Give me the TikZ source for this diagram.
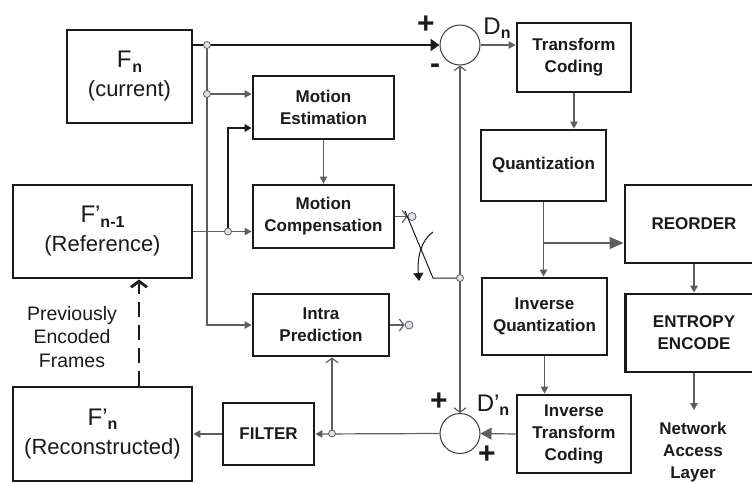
\documentclass[tikz,border=0pt]{standalone}
\usepackage{fontspec}
\setmainfont{Liberation Sans}
\usetikzlibrary{arrows.meta,calc}

\definecolor{inkc}{HTML}{1A1A1A}
\definecolor{wirec}{HTML}{5E5E5E}
\definecolor{dotfill}{HTML}{DDE3EE}

\newcommand\boxfont{\fontsize{17}{22}\selectfont\bfseries}
\newcommand\signfont{\fontsize{30}{30}\selectfont\bfseries}
\newcommand\subn[1]{\raisebox{-4.5pt}{\fontsize{16}{16}\selectfont\bfseries #1}}

\begin{document}
\begin{tikzpicture}[x=1pt,y=-1pt,
  box/.style={draw=inkc, line width=2.9pt, inner sep=0pt, align=center,
              font=\boxfont, text=inkc},
  framebox/.style={box, font=\fontsize{22}{29}\selectfont\mdseries},
  sumnode/.style={circle, draw=inkc!85, line width=1pt, minimum size=40pt, inner sep=0pt},
  wire/.style={draw=wirec, line width=1.2pt},
  darkwire/.style={draw=inkc, line width=1.8pt},
  switchline/.style={draw=inkc, line width=1pt},
  tipS/.style={-{Triangle[length=7pt,width=7.5pt]}},
  tipB/.style={-{Triangle[length=14pt,width=12pt]}},
  tipO/.style={-{Straight Barb[length=4.5pt,width=12pt]}},
  jdot/.style={circle, draw=wirec, fill=dotfill, line width=0.8pt, inner sep=0pt, minimum size=7pt},
  txt/.style={text=inkc, align=center}
]
\useasboundingbox (0,0) rectangle (752,483);

% ---------- frame stores ----------
\node[framebox, minimum width=125pt, minimum height=93pt] (cur) at (129.5,76.5)
  {{\fontsize{24}{24}\selectfont F\kern1pt\subn{n}}\\(current)};
\node[framebox, minimum width=179pt, minimum height=93pt] (ref) at (102.5,231.5)
  {{\fontsize{24}{24}\selectfont F’\subn{n-1}}\\(Reference)};
\node[framebox, minimum width=179pt, minimum height=94pt] (rec) at (102.5,434)
  {{\fontsize{24}{24}\selectfont F’\subn{n}}\\(Reconstructed)};

% ---------- processing blocks ----------
\node[box, minimum width=141pt, minimum height=63pt] (me) at (323.5,107.5) {Motion\\Estimation};
\node[box, minimum width=141pt, minimum height=63pt] (mc) at (323.5,216.5) {Motion\\Compensation};
\node[box, minimum width=136pt, minimum height=62pt] (intra) at (321,325) {Intra\\Prediction};
\node[box, minimum width=91pt, minimum height=62pt] (filt) at (268.5,434) {FILTER};
\node[box, minimum width=114pt, minimum height=69pt] (tc) at (574,57.5) {Transform\\Coding};
\node[box, minimum width=125pt, minimum height=71pt] (quant) at (543.5,165.5) {Quantization};
\node[box, minimum width=125pt, minimum height=77pt] (iq) at (544.5,316.5) {Inverse\\Quantization};
\node[box, minimum width=114pt, minimum height=78pt] (itc) at (574,434) {Inverse\\Transform\\Coding};
\node[box, minimum width=138pt, minimum height=78pt] (reo) at (694,224) {REORDER};
\node[box, minimum width=137pt, minimum height=78pt] (ent) at (694,333) {ENTROPY\\ENCODE};

\node[txt, font=\boxfont] (nal) at (693,452) {Network\\Access\\Layer};
\node[txt, font=\fontsize{19.5}{23.5}\selectfont] (prev) at (72,337) {Previously\\Encoded\\Frames};

% ---------- summing junctions ----------
\node[sumnode] (sum1) at (460,45) {};
\node[sumnode] (sum2) at (460,433.5) {};

\node[txt, font=\signfont] (plus1) at (426,25) {+};
\node[txt, font=\signfont] (minus1) at (435,69) {-};
\node[txt] (dn) at (497,28) {\fontsize{24}{24}\selectfont D\subn{n}};
\node[txt, font=\signfont] (plus2) at (439,402) {+};
\node[txt, font=\signfont] (plus3) at (487,455) {+};
\node[txt] (dpn) at (493,405) {\fontsize{24}{24}\selectfont D’\subn{n}};

% ---------- junction points ----------
\coordinate (j1) at (207,45);
\coordinate (j2) at (207,94);
\coordinate (j3) at (228,231.5);
\coordinate (j4) at (460,278);
\coordinate (j5) at (332,433.5);
\coordinate (br) at (543.5,243);
\coordinate (nalIn) at (694,410);
\coordinate (swPivot) at (433,278);
\coordinate (swTip) at (405,211);

% ---------- connectors ----------
\draw[draw=inkc, line width=2.4pt, -{Triangle[length=9pt,width=12pt]}]
  (cur.east |- sum1) -- (sum1.west);
\draw[wire, tipS] (j1) |- (intra.west);
\draw[wire, tipS] (j2) -- (j2 -| me.west);
\draw[wire, tipS] (ref.east) -- (ref.east -| mc.west);
\draw[darkwire, tipS] (j3) |- ([yshift=-20.5pt]me.west);
\draw[wire, tipS] (me.south) -- (mc.north);

\node[jdot, minimum size=8pt] (t1) at (412,216.5) {};
\node[jdot, minimum size=8pt] (t2) at (409,325) {};
\draw[wire, tipO] (mc.east) -- (t1.west);
\draw[wire, tipO] (intra.east) -- (t2.west);

% mode switch
\draw[switchline] (j4) -- (swPivot) -- (swTip);
\draw[switchline, -{Triangle[length=8pt,width=10pt]}]
  (433,232) .. controls (421,240) and (417,258) .. (419,281);

\draw[wire, tipO] (j4) -- (sum1.south);
\draw[wire, tipO] (j4) -- (sum2.north);

\draw[wire, tipS] (sum1.east) -- (sum1.east -| tc.west);
\draw[wire, tipS] (tc.south) -- (tc.south |- quant.north);
\draw[wire, tipS] (quant.south) -- (quant.south |- iq.north);
\draw[wire, tipB] (br) -- (br -| reo.west);
\draw[wire, tipS] (iq.south) -- (iq.south |- itc.north);
\draw[wire, tipS] (reo.south) -- (ent.north);
\draw[wire, tipS] (ent.south) -- (nalIn);

\draw[wire, -{Triangle[length=11pt,width=12pt]}] (itc.west) -- (sum2.east);
\draw[wire, tipS] (sum2.west) -- (filt.east);
\draw[wire, tipO] (j5) -- (j5 |- intra.south);
\draw[wire, tipS] (filt.west) -- (rec.east);

\draw[draw=inkc, line width=2.8pt, dash pattern=on 15pt off 8pt,
      -{Straight Barb[length=6pt,width=16pt]}]
  ([xshift=36.5pt]rec.north) -- ([xshift=36.5pt]ref.south);

% ---------- junction dots ----------
\foreach \p in {j1,j2,j3,j4,j5}
  \node[jdot] at (\p) {};
\end{tikzpicture}
\end{document}
